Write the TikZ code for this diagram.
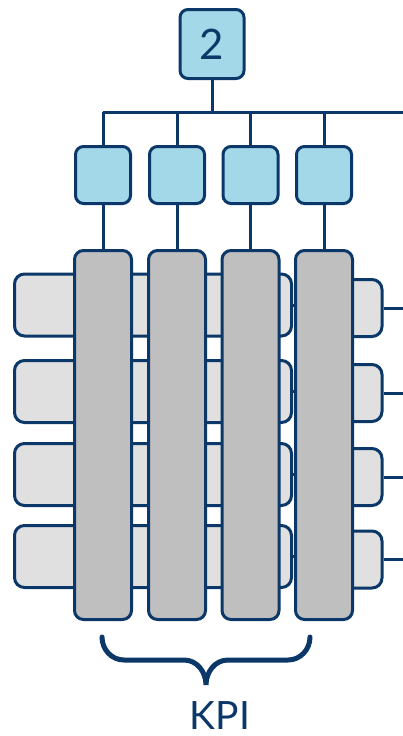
\documentclass[tikz,border=0pt]{standalone}
\usepackage{fontspec}
\setmainfont{Lato}
\definecolor{navy}{HTML}{0B3868}
\definecolor{skyfill}{HTML}{A2D8E8}
\definecolor{barfill}{HTML}{BFBFBF}
\definecolor{rowfill}{HTML}{E0E0E0}
\tikzset{
  kpibox/.style={draw=navy, line width=3pt, rounded corners=8pt, fill=skyfill, inner sep=0pt},
  bar/.style={draw=navy, line width=3pt, rounded corners=9pt, fill=barfill, inner sep=0pt,
    minimum width=57pt, minimum height=369pt},
  row/.style={draw=navy, line width=3pt, rounded corners=10pt, fill=rowfill, inner sep=0pt},
  wire/.style={navy, line width=3pt},
}
\begin{document}
\begin{tikzpicture}[x=1pt,y=-1pt]
\useasboundingbox (0,0) rectangle (403,736);
% Draw rows behind the bars
\foreach \y [count=\i] in {305,391.5,474.5,556.5}
  \node[row, minimum width=277pt, minimum height=62pt] (left-\i) at (153,\y) {};
\foreach \y [count=\i] in {308,393,477,559.5}
  \node[row, minimum width=52pt, minimum height=57pt] (right-\i) at (356,\y) {};
% Bars and their heads
\foreach \x [count=\i] in {103,177,250.5,324} {
  \node[bar] (bar-\i) at (\x,435) {};
  \node[kpibox, minimum width=55pt, minimum height=57pt] (box-\i) at (\x,175) {};
}
\node[kpibox, minimum width=64pt, minimum height=69pt, text=navy,
  font=\fontsize{42}{48}\selectfont] (top) at (212,44) {2};
% Tree wires
\coordinate (bus) at (212,112);
\coordinate (bus-end) at (403,112);
\draw[wire] (top) -- (bus);
\draw[wire] (box-1.north |- bus) -- (bus-end);
\foreach \i in {1,...,4} {
  \draw[wire] (box-\i.north |- bus) -- (box-\i.north);
  \draw[wire] (box-\i) -- (bar-\i);
  \draw[wire] (left-\i.east) -- (left-\i.east -| bar-4.west);
  \draw[wire] (right-\i.east) -- (right-\i.east -| bus-end);
}
% Brace and label
\coordinate (brace-left) at (102,637);
\coordinate (brace-right) at (310,637);
\coordinate (brace-tip) at (206,685);
\draw[navy, line width=5pt, line cap=round] (brace-left) to[out=-90,in=180] (124,660)
  -- (184,660) to[out=0,in=90] (brace-tip) to[out=90,in=180] (228,660)
  -- (288,660) to[out=0,in=-90] (brace-right);
\node[text=navy, anchor=base, inner sep=0pt, font=\fontsize{39}{45}\selectfont] (kpi)
  at (220,729) {KPI};
\end{tikzpicture}
\end{document}
